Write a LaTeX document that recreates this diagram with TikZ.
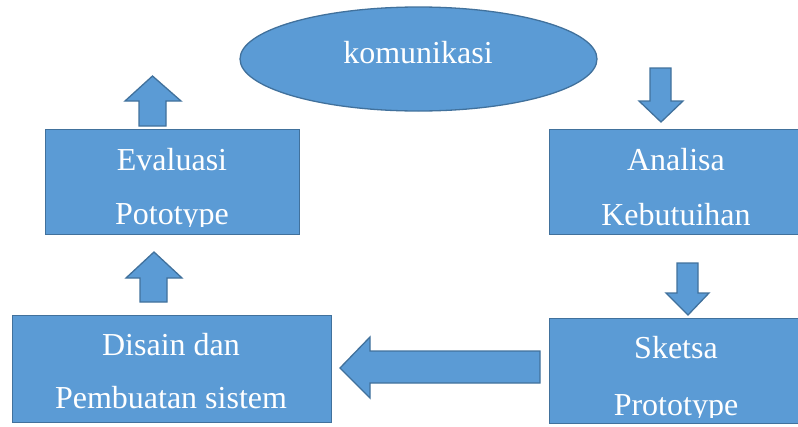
\documentclass[tikz,border=0pt]{standalone}
\usepackage{fontspec}
\setmainfont{Liberation Serif}
\usetikzlibrary{shapes.geometric}
\definecolor{boxfill}{HTML}{5B9BD5}
\definecolor{boxline}{HTML}{41719C}
\tikzset{
  blk/.style={fill=boxfill, draw=boxline, line width=1.3pt},
  rbox/.style={blk, rectangle, inner sep=0pt, anchor=north west},
  lbl/.style={text=white, font=\fontsize{32}{38}\selectfont, anchor=base, inner sep=0pt},
}
\begin{document}
\begin{tikzpicture}[x=1pt,y=-1pt]
\useasboundingbox (0,0) rectangle (798,426);
% ellipse
\node[blk, ellipse, minimum width=357pt, minimum height=104pt, inner sep=0pt] (kom) at (418.5,59) {};
\node[lbl] (komt) at (418,63) {komunikasi};
% boxes
\node[rbox, minimum width=254pt, minimum height=105pt] (eval) at (45,129) {};
\node[rbox, minimum width=254pt, minimum height=105pt] (anal) at (549,129) {};
\node[rbox, minimum width=254pt, minimum height=105pt] (sket) at (549,318) {};
\node[rbox, minimum width=319pt, minimum height=107pt] (dis) at (12,315) {};
% texts
\node[lbl] (evalt1) at (172,170) {Evaluasi};
\begin{scope}
  \clip (45,190) rectangle (299,226);
  \node[lbl] (evalt2) at (172,224) {Pototype};
\end{scope}
\node[lbl] (analt1) at (676,170) {Analisa};
\node[lbl] (analt2) at (676,225) {Kebutuihan};
\node[lbl] (sket1) at (676,358) {Sketsa};
\begin{scope}
  \clip (549,380) rectangle (798,417);
  \node[lbl] (sket2) at (676,415) {Prototype};
\end{scope}
\node[lbl] (dist1) at (171,355) {Disain dan};
\node[lbl] (dist2) at (171,408) {Pembuatan sistem};
% block arrows
\draw[blk, line join=miter] (139,126) -- (139,101) -- (125,101) -- (152.5,76) -- (181,101) -- (166,101) -- (166,126) -- cycle;
\draw[blk, line join=miter] (140,302) -- (140,278) -- (126,278) -- (154,252) -- (182,278) -- (167,278) -- (167,302) -- cycle;
\draw[blk, line join=miter] (650,68) -- (671,68) -- (671,101) -- (683,101) -- (661,122) -- (639,101) -- (650,101) -- cycle;
\draw[blk, line join=miter] (677,263) -- (698,263) -- (698,293) -- (709,293) -- (688,315) -- (666,293) -- (677,293) -- cycle;
\draw[blk, line join=miter] (540,351) -- (540,383) -- (370,383) -- (370,398) -- (340,368) -- (370,337) -- (370,351) -- cycle;
\end{tikzpicture}
\end{document}
